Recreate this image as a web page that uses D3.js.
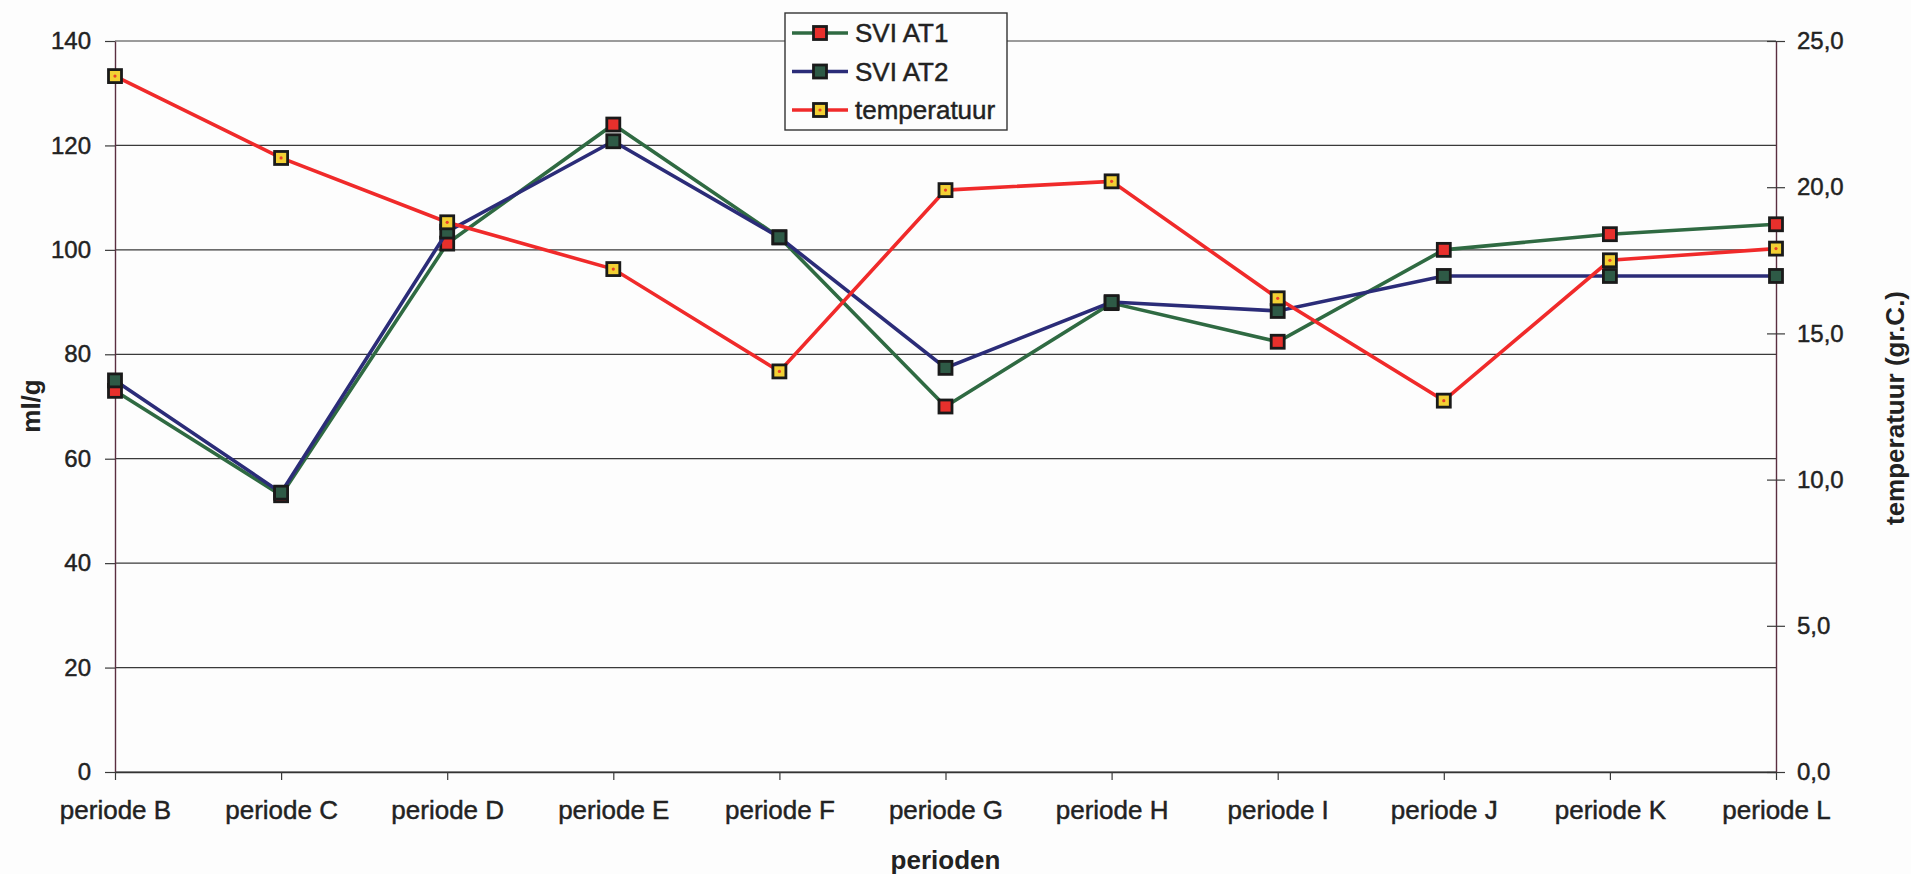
<!DOCTYPE html>
<html>
<head>
<meta charset="utf-8">
<script src="https://cdn.jsdelivr.net/npm/d3@7"></script>
<style>
  html, body { margin: 0; padding: 0; background: #fdfdfd; }
  svg { display: block; font-family: "Liberation Sans", Arial, sans-serif; }
  text.reg { stroke: #222; stroke-width: 0.45px; paint-order: stroke; }
</style>
</head>
<body>
<svg id="chart" width="1911" height="874"></svg>
<script>
const categories = ["periode B","periode C","periode D","periode E","periode F","periode G","periode H","periode I","periode J","periode K","periode L"];
const sviAT1 = [73, 53, 101.2, 124, 102.4, 70, 89.8, 82.4, 100, 103, 104.9];
const sviAT2 = [75, 53.5, 103.5, 120.8, 102.4, 77.4, 90, 88.3, 95, 95, 95];
const temperatuur = [23.8, 21.0, 18.8, 17.2, 13.7, 19.9, 20.2, 16.2, 12.7, 17.5, 17.9];
const leftTicks = [0, 20, 40, 60, 80, 100, 120, 140];
const rightTicks = [0, 5, 10, 15, 20, 25];
const seriesNames = ["SVI AT1", "SVI AT2", "temperatuur"];

const L = 115, R = 1776, T = 41, B = 772;
const svg = d3.select("#chart");

const x = d3.scalePoint().domain(categories).range([L, R]).padding(0);
const yL = d3.scaleLinear().domain([0, 140]).range([B, T]);
const yR = d3.scaleLinear().domain([0, 25]).range([B, T]);

const gridColor = "#3a3a3a";
const axisColor = "#5a2f40";

// gridlines
svg.append("g").selectAll("line").data(leftTicks).join("line")
  .attr("x1", L).attr("x2", R)
  .attr("y1", d => yL(d)).attr("y2", d => yL(d))
  .attr("stroke", gridColor).attr("stroke-width", 1.2);

// left axis
const gL = svg.append("g").attr("transform", `translate(${L},0)`)
  .call(d3.axisLeft(yL).tickValues(leftTicks).tickSize(10).tickPadding(14).tickSizeOuter(0));
gL.select(".domain").attr("stroke", axisColor).attr("stroke-width", 1.4);
gL.selectAll(".tick line").attr("stroke", gridColor).attr("stroke-width", 1.2);
gL.selectAll("text").attr("class", "reg").attr("font-size", 24).attr("fill", "#222");

// right axis
const gR = svg.append("g").attr("transform", `translate(${R},0)`)
  .call(d3.axisRight(yR).tickValues(rightTicks).tickSize(9).tickPadding(12).tickSizeOuter(0)
    .tickFormat(d => d.toFixed(1).replace(".", ",")));
gR.select(".domain").attr("stroke", axisColor).attr("stroke-width", 1.4);
gR.selectAll(".tick line").attr("x1", -9).attr("stroke", gridColor).attr("stroke-width", 1.2);
gR.selectAll("text").attr("class", "reg").attr("font-size", 24).attr("fill", "#222");

// bottom axis
const gB = svg.append("g").attr("transform", `translate(0,${B})`)
  .call(d3.axisBottom(x).tickSize(8).tickPadding(21).tickSizeOuter(0));
gB.select(".domain").attr("stroke", "#333").attr("stroke-width", 1.4);
gB.selectAll(".tick line").attr("stroke", gridColor).attr("stroke-width", 1.2);
gB.selectAll("text").attr("class", "reg").attr("font-size", 26).attr("fill", "#222");

// axis titles
svg.append("text").attr("transform", "translate(31,406) rotate(-90)")
  .attr("text-anchor", "middle").attr("dominant-baseline", "central")
  .attr("font-size", 26).attr("font-weight", "bold").attr("fill", "#222").text("ml/g");
svg.append("text").attr("transform", "translate(1895,408) rotate(-90)")
  .attr("text-anchor", "middle").attr("dominant-baseline", "central")
  .attr("font-size", 26).attr("font-weight", "bold").attr("fill", "#222").text("temperatuur (gr.C.)");
svg.append("text").attr("x", (L + R) / 2).attr("y", 869)
  .attr("text-anchor", "middle")
  .attr("font-size", 26).attr("font-weight", "bold").attr("fill", "#222").text("perioden");

const series = [
  { name: seriesNames[0], values: sviAT1, y: yL, line: "#2f6a42", fill: "#e8302c", dot: null },
  { name: seriesNames[1], values: sviAT2, y: yL, line: "#2b2c78", fill: "#2e5a46", dot: null },
  { name: seriesNames[2], values: temperatuur, y: yR, line: "#f02a2a", fill: "#f2d034", dot: "#e8402a" }
];

const ms = 13;
function drawMarker(g, cx, cy, s) {
  g.append("rect").attr("x", cx - ms / 2).attr("y", cy - ms / 2)
    .attr("width", ms).attr("height", ms)
    .attr("fill", s.fill).attr("stroke", "#1a1a1a").attr("stroke-width", 2.8);
  if (s.dot) g.append("circle").attr("cx", cx).attr("cy", cy).attr("r", 1.6).attr("fill", s.dot);
}

series.forEach(s => {
  const g = svg.append("g");
  const line = d3.line().x((d, i) => x(categories[i])).y(d => s.y(d));
  g.append("path").datum(s.values).attr("d", line)
    .attr("fill", "none").attr("stroke", s.line).attr("stroke-width", 3.6)
    .attr("stroke-linejoin", "miter");
  s.values.forEach((v, i) => drawMarker(g, x(categories[i]), s.y(v), s));
});

// legend
const lg = svg.append("g");
lg.append("rect").attr("x", 785).attr("y", 13).attr("width", 222).attr("height", 117)
  .attr("fill", "#fdfdfd").attr("stroke", "#333").attr("stroke-width", 1.4);
series.forEach((s, i) => {
  const cy = 33 + i * 38.5;
  lg.append("line").attr("x1", 792).attr("x2", 848).attr("y1", cy).attr("y2", cy)
    .attr("stroke", s.line).attr("stroke-width", 3.6);
  drawMarker(lg, 820, cy, s);
  lg.append("text").attr("class", "reg").attr("x", 855).attr("y", cy).attr("dominant-baseline", "central")
    .attr("font-size", 26).attr("fill", "#222").text(s.name);
});
</script>
</body>
</html>
